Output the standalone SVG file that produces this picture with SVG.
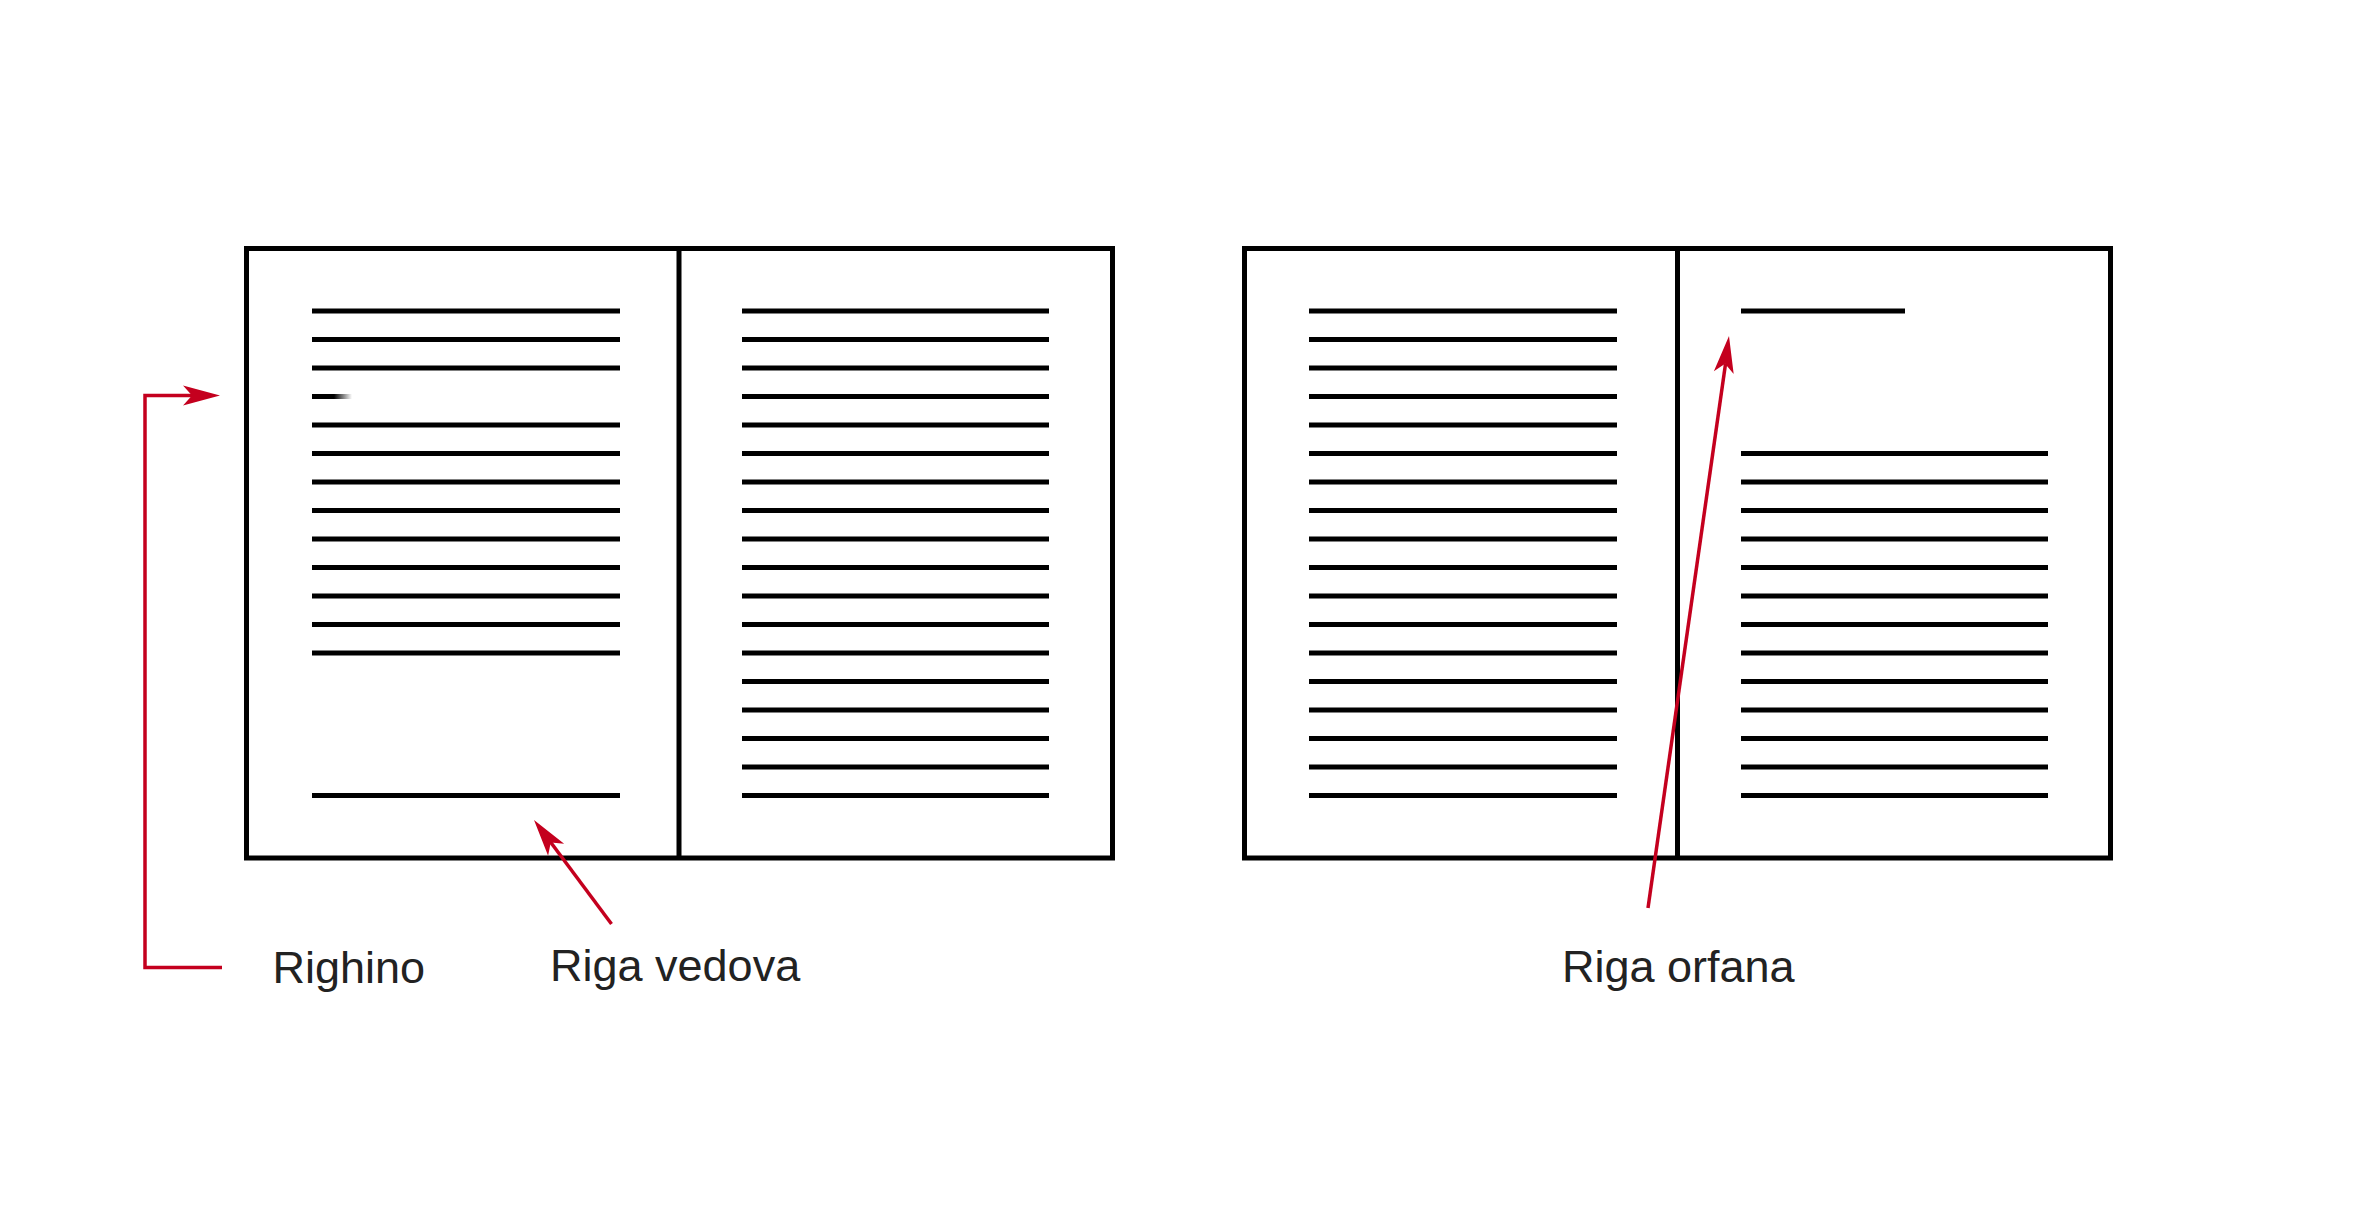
<svg xmlns="http://www.w3.org/2000/svg" width="2363" height="1230" viewBox="0 0 2363 1230">
<style>
.frame{fill:none;stroke:#000;stroke-width:5}
.div{stroke:#000;stroke-width:5}
.ln{stroke:#000;stroke-width:5}
.red{fill:none;stroke:#c4001e;stroke-width:3.5}
.head{fill:#c4001e}
.lbl{font-family:"Liberation Sans",Arial,sans-serif;font-size:45px;fill:#222}
</style>
<defs>
<linearGradient id="fade" gradientUnits="userSpaceOnUse" x1="334" y1="0" x2="352" y2="0">
<stop offset="0" stop-color="#000"/>
<stop offset="1" stop-color="#fff"/>
</linearGradient>
<path id="ah" d="M0,0 L-37,-10 L-28,0 L-37,10 Z"/>
</defs>
<rect width="2363" height="1230" fill="#fff"/>
<g id="book-vedova">
<rect class="frame" x="246.5" y="248.5" width="866" height="609.5"/>
<line class="div" x1="679" y1="248.5" x2="679" y2="858"/>
<g id="page-vedova-left">
<line class="ln" x1="312" y1="311" x2="620" y2="311"/>
<line class="ln" x1="312" y1="339.5" x2="620" y2="339.5"/>
<line class="ln" x1="312" y1="368" x2="620" y2="368"/>
<line x1="312" y1="396.5" x2="352" y2="396.5" stroke="url(#fade)" stroke-width="5"/>
<line class="ln" x1="312" y1="425" x2="620" y2="425"/>
<line class="ln" x1="312" y1="453.5" x2="620" y2="453.5"/>
<line class="ln" x1="312" y1="482" x2="620" y2="482"/>
<line class="ln" x1="312" y1="510.5" x2="620" y2="510.5"/>
<line class="ln" x1="312" y1="539" x2="620" y2="539"/>
<line class="ln" x1="312" y1="567.5" x2="620" y2="567.5"/>
<line class="ln" x1="312" y1="596" x2="620" y2="596"/>
<line class="ln" x1="312" y1="624.5" x2="620" y2="624.5"/>
<line class="ln" x1="312" y1="653" x2="620" y2="653"/>
<line class="ln" x1="312" y1="795.5" x2="620" y2="795.5"/>
</g>
<g id="page-vedova-right">
<line class="ln" x1="742" y1="311" x2="1049" y2="311"/>
<line class="ln" x1="742" y1="339.5" x2="1049" y2="339.5"/>
<line class="ln" x1="742" y1="368" x2="1049" y2="368"/>
<line class="ln" x1="742" y1="396.5" x2="1049" y2="396.5"/>
<line class="ln" x1="742" y1="425" x2="1049" y2="425"/>
<line class="ln" x1="742" y1="453.5" x2="1049" y2="453.5"/>
<line class="ln" x1="742" y1="482" x2="1049" y2="482"/>
<line class="ln" x1="742" y1="510.5" x2="1049" y2="510.5"/>
<line class="ln" x1="742" y1="539" x2="1049" y2="539"/>
<line class="ln" x1="742" y1="567.5" x2="1049" y2="567.5"/>
<line class="ln" x1="742" y1="596" x2="1049" y2="596"/>
<line class="ln" x1="742" y1="624.5" x2="1049" y2="624.5"/>
<line class="ln" x1="742" y1="653" x2="1049" y2="653"/>
<line class="ln" x1="742" y1="681.5" x2="1049" y2="681.5"/>
<line class="ln" x1="742" y1="710" x2="1049" y2="710"/>
<line class="ln" x1="742" y1="738.5" x2="1049" y2="738.5"/>
<line class="ln" x1="742" y1="767" x2="1049" y2="767"/>
<line class="ln" x1="742" y1="795.5" x2="1049" y2="795.5"/>
</g>
</g>
<g id="book-orfana">
<rect class="frame" x="1244.5" y="248.5" width="866" height="609.5"/>
<line class="div" x1="1677.5" y1="248.5" x2="1677.5" y2="858"/>
<g id="page-orfana-left">
<line class="ln" x1="1309" y1="311" x2="1617" y2="311"/>
<line class="ln" x1="1309" y1="339.5" x2="1617" y2="339.5"/>
<line class="ln" x1="1309" y1="368" x2="1617" y2="368"/>
<line class="ln" x1="1309" y1="396.5" x2="1617" y2="396.5"/>
<line class="ln" x1="1309" y1="425" x2="1617" y2="425"/>
<line class="ln" x1="1309" y1="453.5" x2="1617" y2="453.5"/>
<line class="ln" x1="1309" y1="482" x2="1617" y2="482"/>
<line class="ln" x1="1309" y1="510.5" x2="1617" y2="510.5"/>
<line class="ln" x1="1309" y1="539" x2="1617" y2="539"/>
<line class="ln" x1="1309" y1="567.5" x2="1617" y2="567.5"/>
<line class="ln" x1="1309" y1="596" x2="1617" y2="596"/>
<line class="ln" x1="1309" y1="624.5" x2="1617" y2="624.5"/>
<line class="ln" x1="1309" y1="653" x2="1617" y2="653"/>
<line class="ln" x1="1309" y1="681.5" x2="1617" y2="681.5"/>
<line class="ln" x1="1309" y1="710" x2="1617" y2="710"/>
<line class="ln" x1="1309" y1="738.5" x2="1617" y2="738.5"/>
<line class="ln" x1="1309" y1="767" x2="1617" y2="767"/>
<line class="ln" x1="1309" y1="795.5" x2="1617" y2="795.5"/>
</g>
<g id="page-orfana-right">
<line class="ln" x1="1741" y1="311" x2="1905" y2="311"/>
<line class="ln" x1="1741" y1="453.5" x2="2048" y2="453.5"/>
<line class="ln" x1="1741" y1="482" x2="2048" y2="482"/>
<line class="ln" x1="1741" y1="510.5" x2="2048" y2="510.5"/>
<line class="ln" x1="1741" y1="539" x2="2048" y2="539"/>
<line class="ln" x1="1741" y1="567.5" x2="2048" y2="567.5"/>
<line class="ln" x1="1741" y1="596" x2="2048" y2="596"/>
<line class="ln" x1="1741" y1="624.5" x2="2048" y2="624.5"/>
<line class="ln" x1="1741" y1="653" x2="2048" y2="653"/>
<line class="ln" x1="1741" y1="681.5" x2="2048" y2="681.5"/>
<line class="ln" x1="1741" y1="710" x2="2048" y2="710"/>
<line class="ln" x1="1741" y1="738.5" x2="2048" y2="738.5"/>
<line class="ln" x1="1741" y1="767" x2="2048" y2="767"/>
<line class="ln" x1="1741" y1="795.5" x2="2048" y2="795.5"/>
</g>
</g>
<g id="connectors">
<polyline class="red" points="222,967.5 145,967.5 145,395.5 192,395.5"/>
<use href="#ah" class="head" transform="translate(220,395.5)"/>
<line class="red" x1="611.5" y1="924" x2="549" y2="840"/>
<use href="#ah" class="head" transform="translate(534,820) rotate(233.3)"/>
<line class="red" x1="1648" y1="908" x2="1725.5" y2="364"/>
<use href="#ah" class="head" transform="translate(1729,336) rotate(-81.9)"/>
</g>
<g id="labels">
<text class="lbl" x="272.5" y="983">Righino</text>
<text class="lbl" x="550" y="981">Riga vedova</text>
<text class="lbl" x="1562" y="982">Riga orfana</text>
</g>
</svg>
